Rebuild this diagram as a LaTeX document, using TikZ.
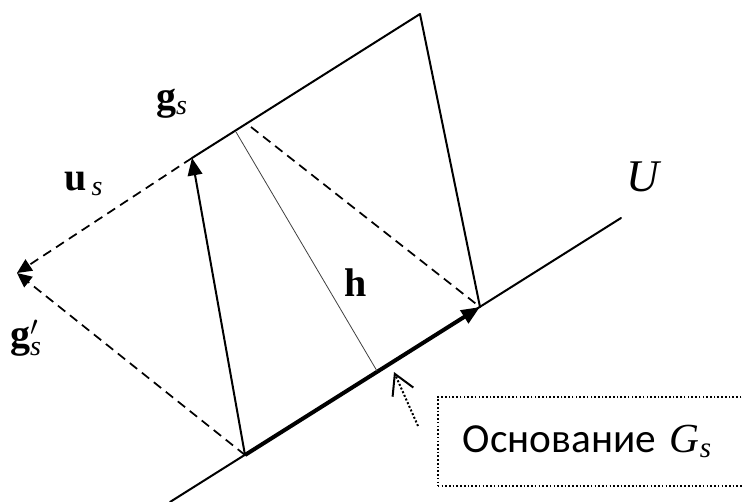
\documentclass[tikz,border=0pt]{standalone}
\usepackage{amsmath}
\usepackage{fontspec}
\setmainfont{Liberation Serif}
\newfontfamily\boxfont{Carlito}
\usetikzlibrary{arrows.meta}

\begin{document}
\begin{tikzpicture}[x=0.75pt, y=-0.75pt,
    edge/.style={line width=1.5pt, line cap=round},
    vecarr/.style={edge, -{Triangle[length=13pt,width=11pt]}},
    proj/.style={line width=1.3pt, dash pattern=on 7pt off 4.5pt},
    projarr/.style={proj, -{Triangle[length=11pt,width=10pt]}},
    lbl/.style={font=\fontsize{30}{34}\selectfont, inner sep=0pt},
    basebox/.style={draw, line width=1.2pt, dash pattern=on 1.2pt off 1.6pt,
                    font=\boxfont\fontsize{31}{36}\selectfont, align=left,
                    inner xsep=18.75pt, text width=197pt, minimum height=66.75pt}]
  \useasboundingbox (0,0) rectangle (742,502);
  % corners of the parallelogram and helper points
  \coordinate (A) at (245,455);
  \coordinate (B) at (480,307);
  \coordinate (C) at (192,158);
  \coordinate (D) at (420,14);
  \coordinate (L) at (17,273);
  \coordinate (U0) at (170,502);
  \coordinate (U1) at (621,218);
  \coordinate (hT) at (236,132);
  \coordinate (hB) at (377,371);
  \coordinate (pT) at (251,127);
  \coordinate (aS) at (418,426);
  \coordinate (aT) at (394,372);

  % subspace U and the base
  \draw[edge] (U0) -- (U1);
  \draw[line width=3pt, -{Triangle[length=14pt,width=11pt]}] (A) -- (B);
  % sides
  \draw[vecarr] (A) -- (C);
  \draw[edge, line join=round] (C) -- (D) -- (B);
  % projections
  \draw[projarr] (C) -- (L);
  \draw[projarr] (A) -- (L);
  \draw[proj] (pT) -- (B);
  \draw[line width=0.6pt, black!75] (hT) -- (hB);

  % labels
  \node[lbl] (gs) at (172,104) {$\mathbf{g}_{\mathit{s}}$};
  \node[lbl] (us) at (84,184) {$\mathbf{u}_{\,\mathit{s}}$};
  \node[lbl] (gps) at (26,338) {$\mathbf{g}'_{\mathit{s}}$};
  \node[lbl] (h) at (356,283) {$\mathbf{h}$};
  \node[lbl, font=\fontsize{34}{38}\selectfont] (U) at (643,177) {$\mathit{U}$};

  % note box
  \node[basebox, anchor=west] (note) at (437,441.5)
    {Основание {\rmfamily\itshape G}$_{\text{\rmfamily\itshape s}}$};
  \draw[line width=1.5pt, dash pattern=on 1.5pt off 1.5pt,
        -{Straight Barb[length=15pt,width=17pt,line width=1.5pt]}] (aS) -- (aT);
\end{tikzpicture}
\end{document}
